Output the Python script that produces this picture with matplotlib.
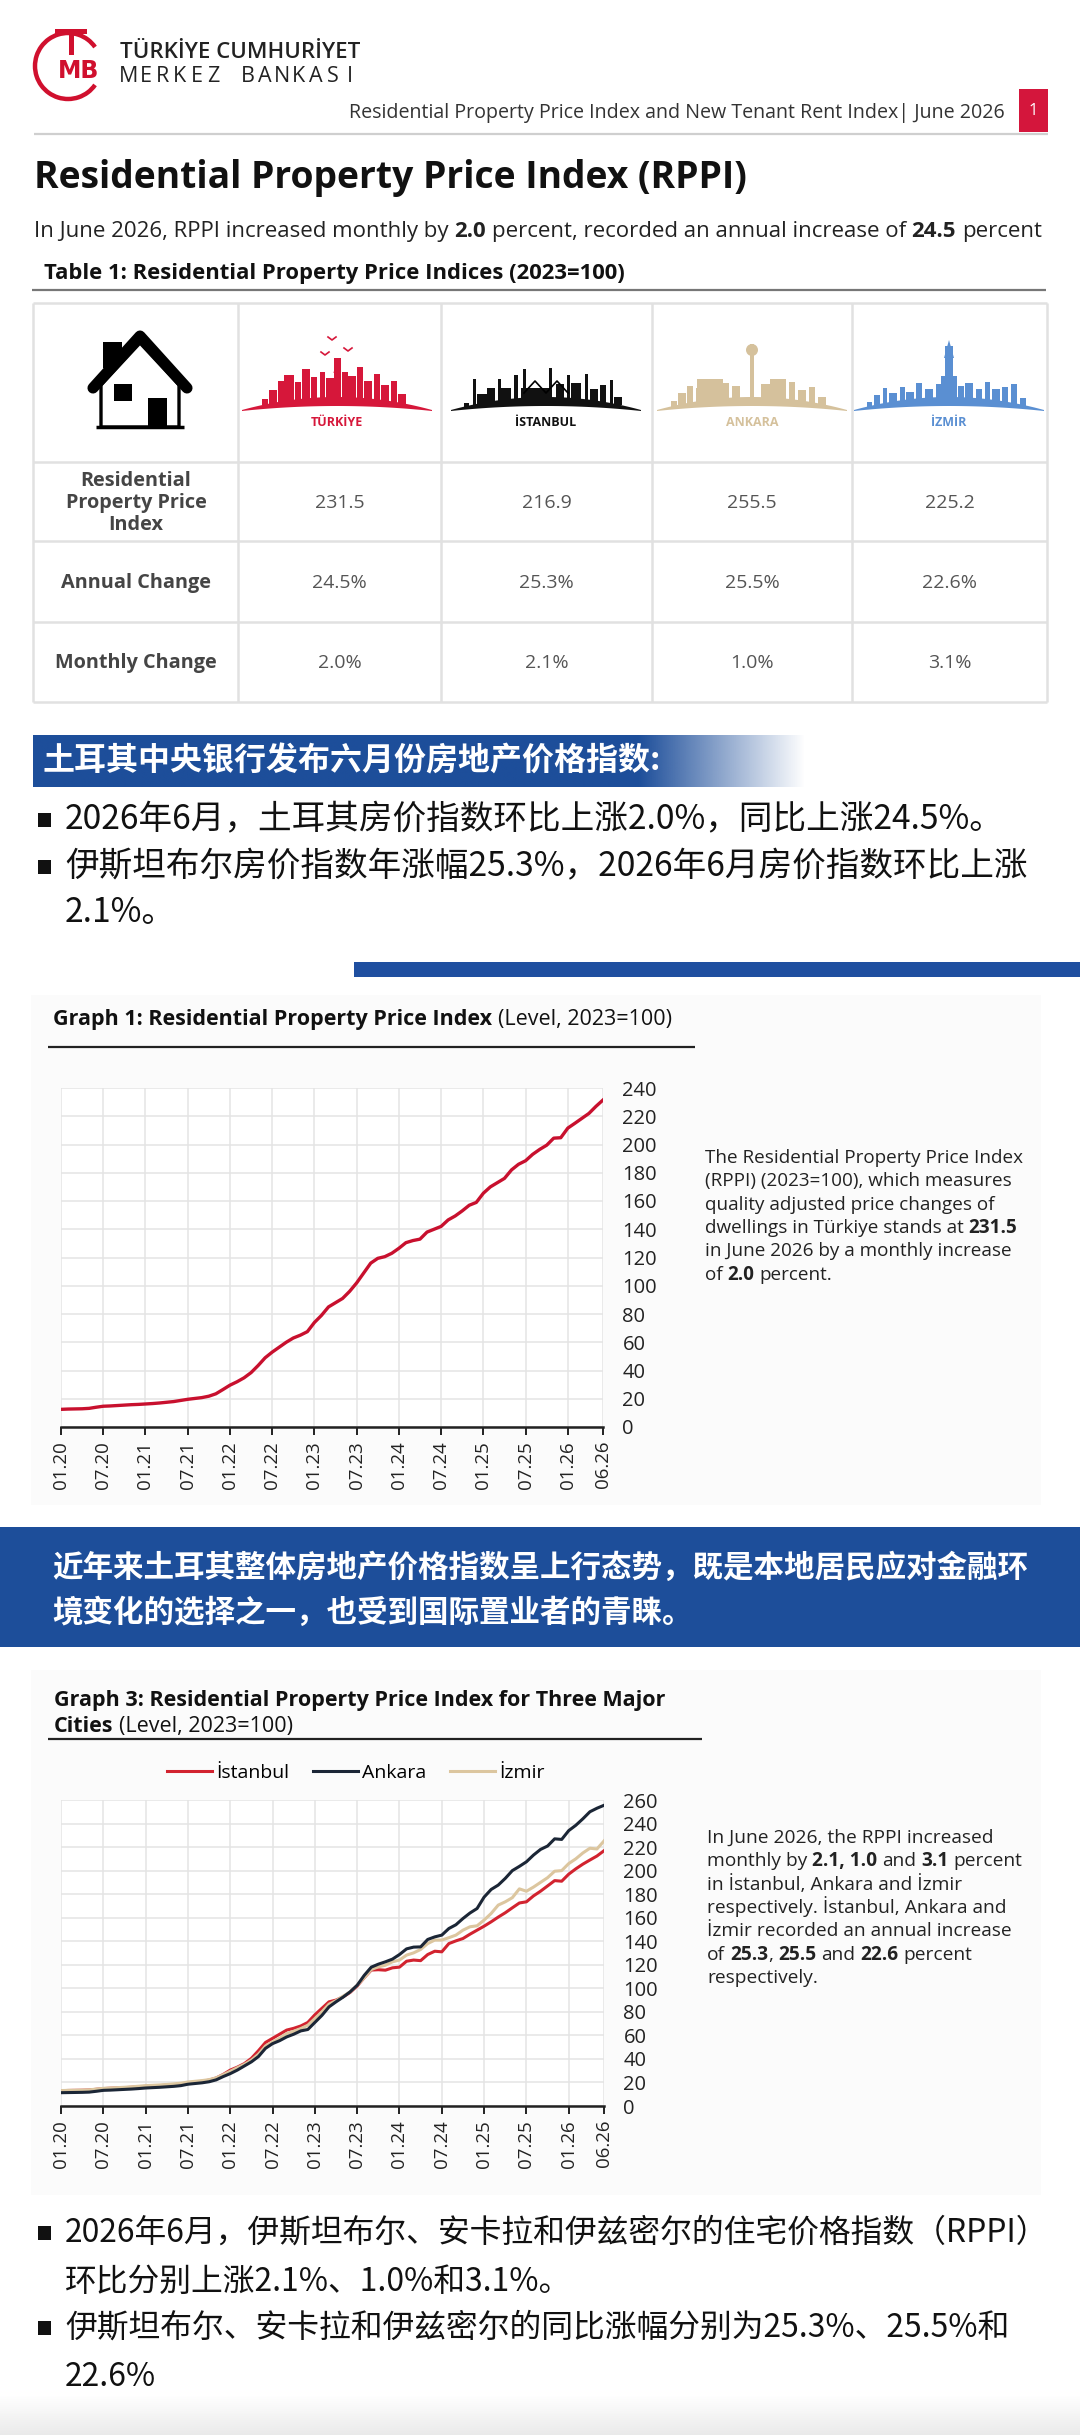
import matplotlib
matplotlib.use("Agg")
import matplotlib.pyplot as plt
import numpy as np
from matplotlib.patches import Rectangle, Polygon, Arc, Circle

W, H = 1080, 2435
EN = ["Open Sans", "DejaVu Sans"]
CJK = ["Noto Sans CJK SC", "DejaVu Sans"]
plt.rcParams["font.family"] = EN

# ---------------- data ----------------
tick_months = [0, 6, 12, 18, 24, 30, 36, 42, 48, 54, 60, 66, 72, 77]
tick_labels = ["01.20", "07.20", "01.21", "07.21", "01.22", "07.22", "01.23",
               "07.23", "01.24", "07.24", "01.25", "07.25", "01.26", "06.26"]

# monthly RPPI levels 01.2020 - 06.2026 (2023=100)
turkiye = [12.5, 12.7, 12.8, 12.9, 13.2, 14.0, 14.7, 14.9, 15.2, 15.5, 15.8, 16.0,
           16.3, 16.6, 17.0, 17.5, 18.0, 18.8, 19.6, 20.2, 20.8, 21.8, 23.5, 26.5,
           29.6, 32.0, 34.8, 38.5, 43.5, 49.0, 53.0, 56.5, 60.0, 63.0, 65.0, 67.5,
           74.0, 79.0, 85.0, 88.0, 91.0, 96.0, 102.0, 109.0, 116.0, 119.4, 120.6, 123.0,
           126.5, 130.5, 132.0, 133.0, 138.0, 140.0, 142.0, 146.6, 149.4, 153.0, 157.0, 159.0,
           165.5, 170.0, 173.0, 176.0, 182.0, 186.0, 188.5, 193.0, 196.5, 199.5, 204.5, 204.8,
           211.6, 215.0, 218.5, 222.0, 227.0, 231.5]
istanbul = [13.0, 13.2, 13.3, 13.4, 13.6, 14.2, 14.8, 15.1, 15.3, 15.6, 15.9, 16.3,
            16.7, 17.0, 17.3, 17.7, 18.1, 18.7, 19.6, 20.3, 21.0, 22.0, 23.8, 26.8,
            30.5, 33.0, 36.0, 40.5, 47.0, 54.0, 57.5, 61.0, 64.5, 66.0, 68.0, 71.0,
            77.5, 83.0, 88.5, 90.0, 92.7, 96.5, 102.0, 109.0, 115.5, 115.8, 115.4, 117.4,
            118.0, 123.0, 124.0, 123.5, 128.7, 131.5, 131.0, 138.0, 140.3, 142.3, 146.0, 149.4,
            152.8, 156.5, 160.5, 164.2, 168.4, 172.5, 173.5, 178.5, 182.5, 187.0, 191.5, 191.0,
            197.0, 201.5, 205.5, 209.0, 212.4, 216.9]
ankara = [11.3, 11.4, 11.5, 11.6, 11.8, 12.5, 13.3, 13.5, 13.8, 14.1, 14.4, 14.8,
          15.3, 15.6, 15.9, 16.3, 16.7, 17.3, 18.5, 19.1, 19.7, 20.6, 22.2, 25.0,
          27.5, 30.5, 34.0, 37.5, 42.0, 49.0, 53.0, 55.5, 58.7, 61.0, 63.8, 65.0,
          71.0, 77.0, 84.2, 88.5, 92.5, 97.0, 102.6, 111.0, 118.0, 120.5, 122.5, 124.8,
          128.7, 133.5, 135.0, 135.2, 141.5, 143.7, 145.2, 150.8, 154.0, 159.3, 164.0, 167.8,
          177.5, 184.0, 187.7, 193.4, 200.0, 203.6, 207.5, 213.2, 218.0, 220.9, 227.0, 226.5,
          234.0, 238.5, 244.0, 250.0, 253.0, 255.5]
izmir = [13.1, 13.3, 13.4, 13.5, 13.7, 14.4, 15.0, 15.3, 15.6, 15.9, 16.3, 16.8,
         17.3, 17.6, 17.9, 18.3, 18.8, 19.4, 20.4, 21.0, 21.6, 22.4, 23.9, 26.6,
         29.5, 32.5, 35.4, 39.0, 44.0, 51.0, 54.4, 57.5, 61.5, 63.5, 65.8, 68.6,
         74.3, 80.0, 86.5, 89.5, 93.3, 97.0, 102.6, 109.0, 116.0, 118.2, 119.6, 122.5,
         124.0, 128.2, 130.1, 133.0, 138.0, 141.0, 141.0, 143.0, 145.2, 149.4, 152.3, 153.1,
         158.0, 163.6, 170.7, 173.5, 177.0, 184.5, 182.5, 186.0, 190.0, 194.0, 199.5, 200.0,
         206.0, 210.0, 215.0, 219.0, 218.4, 225.2]

regions = ["TÜRKİYE", "İSTANBUL", "ANKARA", "İZMİR"]
region_colors = ["#d6173a", "#111111", "#d5c19c", "#5a8fd2"]
row_labels = ["Residential\nProperty Price\nIndex", "Annual Change", "Monthly Change"]
rppi_level = ["231.5", "216.9", "255.5", "225.2"]
annual_change = ["24.5%", "25.3%", "25.5%", "22.6%"]
monthly_change = ["2.0%", "2.1%", "1.0%", "3.1%"]

months = np.arange(len(turkiye))

# ---------------- canvas ----------------
fig = plt.figure(figsize=(W / 100, H / 100), dpi=100)
fig.patch.set_facecolor("white")
ax0 = fig.add_axes([0, 0, 1, 1])
ax0.set_xlim(0, W)
ax0.set_ylim(H, 0)
ax0.axis("off")
rend = fig.canvas.get_renderer()


def put(x, y, s, size, weight="normal", color="#222222", ha="left", va="center", family=EN, **kw):
    return ax0.text(x, y, s, fontsize=size, fontweight=weight, color=color,
                    ha=ha, va=va, family=family, **kw)


def text_w(s, size, weight="normal"):
    t = put(0, 0, s, size, weight)
    w = t.get_window_extent(renderer=rend).width
    t.remove()
    return w


def rich(x, y, line, size, color="#222222"):
    # **bold** markup, y is the baseline
    sp = text_w("a a", size) - text_w("aa", size)
    for i, seg in enumerate(line.split("**")):
        if not seg:
            continue
        lead = len(seg) - len(seg.lstrip(" "))
        trail = len(seg) - len(seg.rstrip(" "))
        x += lead * sp
        core = seg.strip(" ")
        if core:
            t = put(x, y, core, size, "bold" if i % 2 else "normal", color, va="baseline")
            x += t.get_window_extent(renderer=rend).width
        x += trail * sp


def hline(y, x1, x2, color, lw):
    ax0.plot([x1, x2], [y, y], color=color, lw=lw, solid_capstyle="butt")


def vline(x, y1, y2, color, lw):
    ax0.plot([x, x], [y1, y2], color=color, lw=lw, solid_capstyle="butt")


def px_axes(l, t, r, b):
    return fig.add_axes([l / W, 1 - b / H, (r - l) / W, (b - t) / H])


# ---------------- header ----------------
red = "#d0102e"
ax0.add_patch(Arc((68, 66), 66, 66, theta1=35, theta2=325, color=red, lw=3.2))
ax0.add_patch(Rectangle((55, 29), 32, 5, color=red, lw=0))
ax0.add_patch(Rectangle((68.5, 29), 5, 26, color=red, lw=0))
put(79, 71, "MB", 17, "bold", red, ha="center", family=["DejaVu Sans"])
put(120, 52, "TÜRKİYE CUMHURİYET", 16, "semibold", "#222222")
for i, ch in enumerate("MERKEZ BANKASI"):
    put(120 + (i + 0.5) * 17, 77, ch, 15.5, "normal", "#222222", ha="center")

put(1005, 113, "Residential Property Price Index and New Tenant Rent Index| June 2026",
    14.1, color="#333333", ha="right")
ax0.add_patch(Rectangle((1019, 89), 29, 43, color="#d4163c", lw=0))
put(1033.5, 111, "1", 12, color="white", ha="center")
hline(134, 34, 1048, "#cfcfcf", 1.6)

rich(34, 188, "**Residential Property Price Index (RPPI)**", 26.8, "#111111")
rich(34, 237, "In June 2026, RPPI increased monthly by **2.0** percent, recorded an annual increase of **24.5** percent",
     16, "#222222")
rich(44, 279, "**Table 1: Residential Property Price Indices (2023=100)**", 15.8, "#111111")
hline(290, 32, 1046, "#777777", 1.6)

# ---------------- table ----------------
col_x = [33, 238, 441, 652, 852, 1047]
row_y = [303, 462, 541, 622, 702]
grid_c = "#e1e1e1"
for x in col_x:
    vline(x, row_y[0], row_y[-1], grid_c, 1.8)
for y in row_y:
    hline(y, col_x[0], col_x[-1], grid_c, 1.8)

# house icon
ax0.plot([93, 140, 187], [388, 336, 388], color="black", lw=8, solid_joinstyle="round",
         solid_capstyle="round")
ax0.add_patch(Rectangle((103, 342), 19, 26, color="black", lw=0))
ax0.add_patch(Polygon([[101, 385], [140, 343], [179, 385], [179, 427], [101, 427]],
                      closed=True, facecolor="white", edgecolor="black", lw=2.4))
ax0.add_patch(Rectangle((114, 384), 18, 17, color="black", lw=0))
ax0.add_patch(Rectangle((148, 398), 19, 29, color="black", lw=0))
hline(427, 96, 184, "black", 2.5)


def skyline(cx, color, blds):
    xs = np.linspace(-95, 95, 80)
    top = 410 - 13 * (1 - (xs / 95) ** 2)
    bot = 411 - 5 * (1 - (xs / 95) ** 2)
    pts = np.column_stack([np.r_[cx + xs, cx + xs[::-1]], np.r_[top, bot[::-1]]])
    ax0.add_patch(Polygon(pts, closed=True, color=color, lw=0))
    for dx, w, h in blds:
        base = 410 - 13 * (1 - (dx / 95) ** 2) + 1
        ax0.add_patch(Rectangle((cx + dx - w / 2, base - h), w, h, color=color, lw=0))


cell_cx = [(col_x[i + 1] + col_x[i + 2]) / 2 for i in range(4)]
label_cx = [337, 546, 752, 949]

# Turkiye
skyline(label_cx[0], region_colors[0],
        [(-72, 6, 6), (-64, 8, 14), (-56, 6, 22), (-48, 10, 26), (-39, 6, 18), (-31, 8, 30),
         (-23, 6, 22), (-15, 5, 26), (-7, 8, 20), (0, 7, 40), (8, 6, 26), (15, 8, 22),
         (23, 6, 32), (31, 8, 18), (40, 6, 26), (48, 8, 16), (57, 6, 22), (65, 8, 10)])
ax0.add_patch(Polygon([[333.5, 373], [337, 358], [340.5, 373]], color=region_colors[0], lw=0))
for bx, by in [(332, 340), (348, 351), (325, 355)]:
    ax0.plot([bx - 4, bx, bx + 4], [by - 3, by, by - 3], color=region_colors[0], lw=1.2)
# Istanbul
skyline(label_cx[1], region_colors[1],
        [(-80, 5, 4), (-72, 3, 26), (-64, 10, 10), (-55, 8, 14), (-47, 3, 22), (-40, 10, 12),
         (-30, 4, 24), (-22, 3, 30), (-10, 30, 10), (4, 3, 30), (14, 8, 14), (22, 3, 24),
         (30, 10, 16), (40, 3, 26), (48, 8, 12), (57, 6, 18), (65, 3, 24), (72, 8, 8)])
ax0.plot([524, 535, 546, 557, 568], [393, 381, 393, 381, 393], color="black", lw=1.2)
# Ankara
skyline(label_cx[2], region_colors[2],
        [(-78, 6, 6), (-70, 8, 12), (-62, 6, 18), (-52, 8, 14), (-42, 26, 22), (-26, 6, 16),
         (-16, 8, 12), (0, 4, 54), (14, 10, 14), (26, 16, 20), (40, 6, 18), (50, 8, 12),
         (60, 6, 16), (70, 8, 8)])
ax0.add_patch(Circle((752, 350), 6, color=region_colors[2], lw=0))
ax0.add_patch(Circle((778, 389), 8, color=region_colors[2], lw=0))
# Izmir
skyline(label_cx[3], region_colors[3],
        [(-80, 5, 5), (-72, 6, 10), (-64, 4, 16), (-56, 8, 10), (-47, 5, 14), (-39, 8, 8),
         (-30, 6, 16), (-20, 8, 10), (-10, 6, 14), (0, 8, 52), (0, 16, 22), (12, 6, 12),
         (20, 8, 16), (30, 6, 10), (38, 5, 18), (47, 8, 12), (56, 6, 16), (65, 6, 20),
         (74, 6, 8)])
ax0.add_patch(Polygon([[944, 358], [949, 340], [954, 358]], color=region_colors[3], lw=0))

for cx, name, c in zip(label_cx, regions, region_colors):
    put(cx, 422, name, 9, "bold", c, ha="center")

put(136, 503, row_labels[0], 14.3, "bold", "#454545", ha="center", linespacing=1.15)
put(136, 583, row_labels[1], 14.3, "bold", "#454545", ha="center")
put(136, 663, row_labels[2], 14.3, "bold", "#454545", ha="center")
for cx, a, b, c in zip(cell_cx, rppi_level, annual_change, monthly_change):
    put(cx, 503, a, 14, color="#555555", ha="center")
    put(cx, 583, b, 14, color="#555555", ha="center")
    put(cx, 663, c, 14, color="#555555", ha="center")

# ---------------- chinese block 1 ----------------
blue = "#1d4e9a"
grad = np.zeros((1, 400, 4))
grad[..., :3] = matplotlib.colors.to_rgb(blue)
xg = np.linspace(33, 806, 400)
grad[0, :, 3] = np.clip((806 - xg) / (806 - 640), 0, 1)
ax0.imshow(grad, extent=[33, 806, 787, 735], aspect="auto", interpolation="bilinear", zorder=1)
ax0.set_xlim(0, W)
ax0.set_ylim(H, 0)
put(43, 761, "土耳其中央银行发布六月份房地产价格指数:", 23, "bold", "white", family=CJK, zorder=2)


def bullet(y):
    ax0.add_patch(Rectangle((38, y - 7), 13, 14, color="#111111", lw=0))


cn_top = 24.2
cn_bot = 22.9
bullet(820)
put(65, 820, "2026年6月，土耳其房价指数环比上涨2.0%，同比上涨24.5%。", cn_top, color="#111111", family=CJK)
bullet(867)
put(65, 867, "伊斯坦布尔房价指数年涨幅25.3%，2026年6月房价指数环比上涨", cn_top, color="#111111", family=CJK)
put(65, 913, "2.1%。", cn_top, color="#111111", family=CJK)
ax0.add_patch(Rectangle((354, 962), 726, 15, color="#1f4fa0", lw=0))

# ---------------- graph 1 ----------------
ax0.add_patch(Rectangle((31, 995), 1010, 510, color="#fbfbfb", lw=0, zorder=0))
rich(53, 1025, "**Graph 1: Residential Property Price Index** (Level, 2023=100)", 15.5, "#111111")
hline(1047, 48, 695, "#222222", 1.6)
para1 = ["The Residential Property Price Index",
         "(RPPI) (2023=100), which measures",
         "quality adjusted price changes of",
         "dwellings in Türkiye stands at **231.5**",
         "in June 2026 by a monthly increase",
         "of **2.0** percent."]
for i, ln in enumerate(para1):
    rich(705, 1163 + i * 23.3, ln, 13.6, "#222222")


def style_chart(ax, ymax):
    ax.set_facecolor("white")
    ax.set_xlim(0, 77)
    ax.set_ylim(0, ymax)
    ax.set_xticks(tick_months)
    ax.set_xticklabels(tick_labels, rotation=90, fontsize=13.5, color="#222222")
    ax.set_yticks(np.arange(0, ymax + 1, 20))
    ax.yaxis.tick_right()
    ax.tick_params(axis="y", length=0, pad=14, labelsize=14.5, labelcolor="#222222")
    ax.tick_params(axis="x", length=6, width=1.4, direction="out", pad=4, color="#222222")
    ax.grid(True, color="#e4e4e4", lw=1.1)
    ax.set_axisbelow(True)
    for s in ["top", "right", "left"]:
        ax.spines[s].set_visible(False)
    ax.spines["bottom"].set_color("#222222")
    ax.spines["bottom"].set_linewidth(1.8)


ax1 = px_axes(61, 1088, 603, 1427)
style_chart(ax1, 240)
ax1.plot(months, turkiye, color="#c8102e", lw=2.4, solid_joinstyle="round")

# ---------------- blue band ----------------
ax0.add_patch(Rectangle((0, 1527), W, 120, color=blue, lw=0))
put(52, 1568, "近年来土耳其整体房地产价格指数呈上行态势，既是本地居民应对金融环", 22, "bold", "white", family=CJK)
put(52, 1613, "境变化的选择之一，也受到国际置业者的青睐。", 22, "bold", "white", family=CJK)

# ---------------- graph 3 ----------------
ax0.add_patch(Rectangle((31, 1670), 1010, 525, color="#fbfbfb", lw=0, zorder=0))
rich(54, 1706, "**Graph 3: Residential Property Price Index for Three Major**", 15.5, "#111111")
rich(54, 1732, "**Cities** (Level, 2023=100)", 15.5, "#111111")
hline(1739, 48, 702, "#222222", 1.6)
para3 = ["In June 2026, the RPPI increased",
         "monthly by **2.1, 1.0** and **3.1** percent",
         "in İstanbul, Ankara and İzmir",
         "respectively. İstanbul, Ankara and",
         "İzmir recorded an annual increase",
         "of **25.3**, **25.5** and **22.6** percent",
         "respectively."]
for i, ln in enumerate(para3):
    rich(707, 1843 + i * 23.3, ln, 13.8, "#222222")

ax3 = px_axes(61, 1800, 604, 2106)
style_chart(ax3, 260)
l_ist, = ax3.plot(months, istanbul, color="#d2232f", lw=2.2, label="İstanbul")
l_izm, = ax3.plot(months, izmir, color="#dcc69f", lw=2.2, label="İzmir")
l_ank, = ax3.plot(months, ankara, color="#1b2636", lw=2.2, label="Ankara")
ax3.legend(handles=[l_ist, l_ank, l_izm], loc="center", ncol=3, frameon=False,
           bbox_to_anchor=(356 / W, 1 - 1773 / H), bbox_transform=fig.transFigure,
           fontsize=14, handlelength=2.3, handletextpad=0.25, columnspacing=1.2)

# ---------------- chinese block 2 ----------------
bullet(2233)
put(65, 2233, "2026年6月，伊斯坦布尔、安卡拉和伊兹密尔的住宅价格指数（RPPI）", cn_bot, color="#111111", family=CJK)
put(65, 2282, "环比分别上涨2.1%、1.0%和3.1%。", cn_bot, color="#111111", family=CJK)
bullet(2328)
put(65, 2328, "伊斯坦布尔、安卡拉和伊兹密尔的同比涨幅分别为25.3%、25.5%和", cn_bot, color="#111111", family=CJK)
put(65, 2377, "22.6%", cn_bot, color="#111111", family=CJK)

fade = np.ones((40, 1, 4))
fade[..., :3] = 0.9
fade[:, 0, 3] = np.linspace(0, 0.8, 40)
ax0.imshow(fade, extent=[0, W, H, H - 40], aspect="auto", zorder=0)
ax0.set_xlim(0, W)
ax0.set_ylim(H, 0)

fig.savefig("out.png", dpi=100, facecolor="white")
